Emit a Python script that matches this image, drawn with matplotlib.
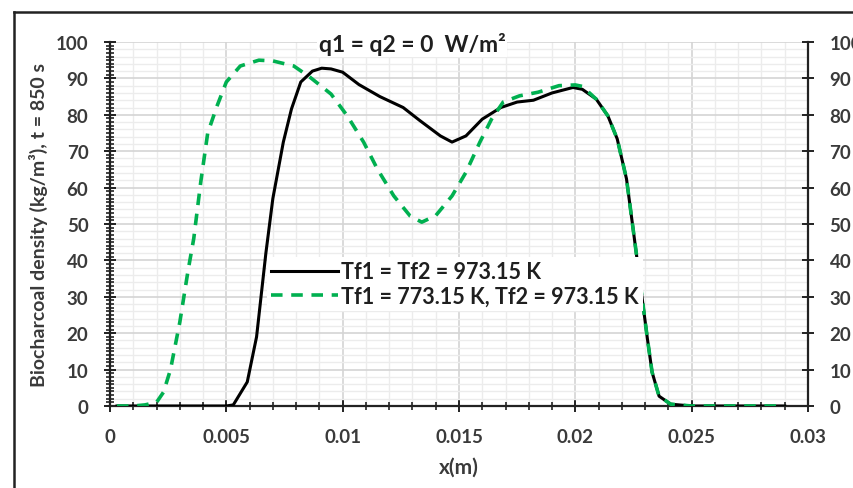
import matplotlib
matplotlib.use('Agg')
import matplotlib.pyplot as plt
from matplotlib.lines import Line2D
from matplotlib.ticker import MultipleLocator
import numpy as np

plt.rcParams['font.family'] = ['Lato', 'DejaVu Sans']

# Tf1 = Tf2 = 973.15 K
x_same = [0.0003, 0.001, 0.002, 0.003, 0.004, 0.005, 0.0053, 0.0059, 0.0063, 0.0067,
          0.0070, 0.00745, 0.0078, 0.0082, 0.0087, 0.0091, 0.0095, 0.0100, 0.0107, 0.0116,
          0.0126, 0.0133, 0.0142, 0.0147, 0.0153, 0.0160, 0.0168, 0.0175, 0.0182, 0.0190,
          0.0199, 0.0203, 0.0209, 0.0214, 0.0218, 0.0222, 0.0226, 0.0231, 0.0233, 0.0236,
          0.0241, 0.0250, 0.0260, 0.0270, 0.0280, 0.0290]
rho_same = [0, 0, 0, 0, 0, 0, 0.3, 6.6, 19, 42,
            57, 72.5, 81.6, 89, 92, 92.8, 92.6, 91.7, 88.3, 85,
            82, 78.5, 74.2, 72.5, 74.2, 78.8, 82, 83.5, 84, 86,
            87.5, 87, 84.3, 79.7, 73.4, 62.4, 43, 18.4, 9.3, 2.7,
            0.5, 0, 0, 0, 0, 0]

# Tf1 = 773.15 K, Tf2 = 973.15 K
x_diff = [0.0003, 0.001, 0.0015, 0.002, 0.0023, 0.0026, 0.0030, 0.00335, 0.0036, 0.0039,
          0.0042, 0.0046, 0.0050, 0.0056, 0.0064, 0.0070, 0.0079, 0.0086, 0.0095, 0.0102,
          0.0109, 0.0115, 0.0122, 0.0129, 0.0134, 0.0140, 0.0147, 0.0153, 0.0159, 0.0164,
          0.0169, 0.0176, 0.0184, 0.0193, 0.0200, 0.0203, 0.0209, 0.0214, 0.0218, 0.0222,
          0.0226, 0.0231, 0.0233, 0.0236, 0.0241, 0.0250, 0.0260, 0.0270, 0.0280, 0.0290]
rho_diff = [0, 0, 0.3, 1, 3.8, 10, 23, 37, 46, 61.5,
            75, 82.4, 89, 93.4, 95, 94.8, 93.4, 90.3, 85.7, 79.7,
            72.5, 65, 57.7, 52.2, 50.5, 52.3, 57.7, 64.2, 72.5, 78.8,
            83.5, 85.2, 86.2, 88, 88.2, 87.8, 84.3, 79.7, 73.4, 62.4,
            43, 18.4, 9.3, 2.7, 0.5, 0, 0, 0, 0, 0]

y_ticks = list(range(0, 101, 10))
x_ticks = [0, 0.005, 0.01, 0.015, 0.02, 0.025, 0.03]
x_ticklabels = ['0', '0.005', '0.01', '0.015', '0.02', '0.025', '0.03']

fig = plt.figure(figsize=(8.54, 4.89), dpi=100)
ax = fig.add_axes([0.1288, 0.1677, 0.8173, 0.7444])

ax.plot(x_same, rho_same, color='black', lw=2.2, label='Tf1 = Tf2 = 973.15 K', zorder=3)
ax.plot(x_diff, rho_diff, color='#00b050', lw=2.6, ls=(0, (3.2, 2.4)),
        label='Tf1 = 773.15 K, Tf2 = 973.15 K', zorder=4)

ax.set_xlim(0, 0.03)
ax.set_ylim(0, 100)
ax.set_xticks(x_ticks)
ax.set_xticklabels(x_ticklabels)
ax.set_yticks(y_ticks)
ax.xaxis.set_minor_locator(MultipleLocator(0.001))
ax.yaxis.set_minor_locator(MultipleLocator(2))

# gridlines
ax.grid(which='major', color='#d4d4d4', lw=1.2, zorder=0)
ax.grid(which='minor', color='#ececec', lw=1.0, zorder=0)
ax.set_axisbelow(True)

for s in ['left', 'right', 'bottom']:
    ax.spines[s].set_color('#222222')
    ax.spines[s].set_linewidth(1.6)
ax.spines['top'].set_visible(False)

# fine minor ticks on the left axis, every 1 unit
ax_minor = ax.twinx()
ax_minor.set_ylim(0, 100)
ax_minor.yaxis.set_ticks_position('left')
ax_minor.yaxis.set_minor_locator(MultipleLocator(1))
ax_minor.set_yticks([])
ax_minor.tick_params(axis='y', which='minor', direction='inout', length=6, width=1.2,
                     color='#222222', left=True, right=False)
for s in ax_minor.spines.values():
    s.set_visible(False)

# secondary scale on the right
ax_right = ax.twinx()
ax_right.set_ylim(0, 100)
ax_right.set_yticks(y_ticks)
ax_right.tick_params(axis='y', which='major', direction='inout', length=9, width=1.4,
                     colors='#222222', labelcolor='#3a3a3a', labelsize=13.5, pad=11)
for lbl in ax_right.get_yticklabels():
    lbl.set_fontweight('bold')
for s in ax_right.spines.values():
    s.set_visible(False)

ax.tick_params(axis='both', which='major', direction='inout', length=9, width=1.4,
               colors='#222222', labelcolor='#3a3a3a', labelsize=13.5)
ax.tick_params(axis='y', which='major', left=True, right=False, labelleft=True,
               labelright=False, pad=11)
ax.tick_params(axis='x', which='major', pad=11)
ax.tick_params(axis='x', which='minor', direction='inout', length=6, width=1.2, color='#222222')
ax.tick_params(axis='y', which='minor', left=False, right=False)
for lbl in ax.get_xticklabels() + ax.get_yticklabels():
    lbl.set_fontweight('bold')

ax.set_xlabel('x(m)', fontsize=15, fontweight='bold', color='#3a3a3a', labelpad=9)
ax.set_ylabel('Biocharcoal density (kg/m³), t = 850 s', fontsize=14, fontweight='bold',
              color='#3a3a3a', labelpad=6)

ax.text(0.01298, 99.5, 'q1 = q2 = 0  W/m²', ha='center', va='center', fontsize=16.5,
        fontweight='bold', color='#1f1f1f', zorder=5,
        bbox=dict(facecolor='white', edgecolor='none', pad=1))

leg = ax.legend(loc='upper left', bbox_to_anchor=(0.225, 0.41), frameon=True,
                edgecolor='none', facecolor='white', framealpha=1, fancybox=False,
                borderpad=0.2, handlelength=3.1, handletextpad=0.15, labelspacing=0.15,
                borderaxespad=0, prop={'size': 15.5, 'weight': 'bold'})
for t in leg.get_texts():
    t.set_color('#1f1f1f')
leg.set_zorder(6)

# outer chart frame
fig.add_artist(Line2D([14 / 854, 14 / 854], [0, 1 - 13 / 489], color='#222222', lw=1.8,
                      transform=fig.transFigure))
fig.add_artist(Line2D([14 / 854, 1], [1 - 13 / 489, 1 - 13 / 489], color='#222222', lw=1.8,
                      transform=fig.transFigure))

fig.savefig('out.png', dpi=100)
